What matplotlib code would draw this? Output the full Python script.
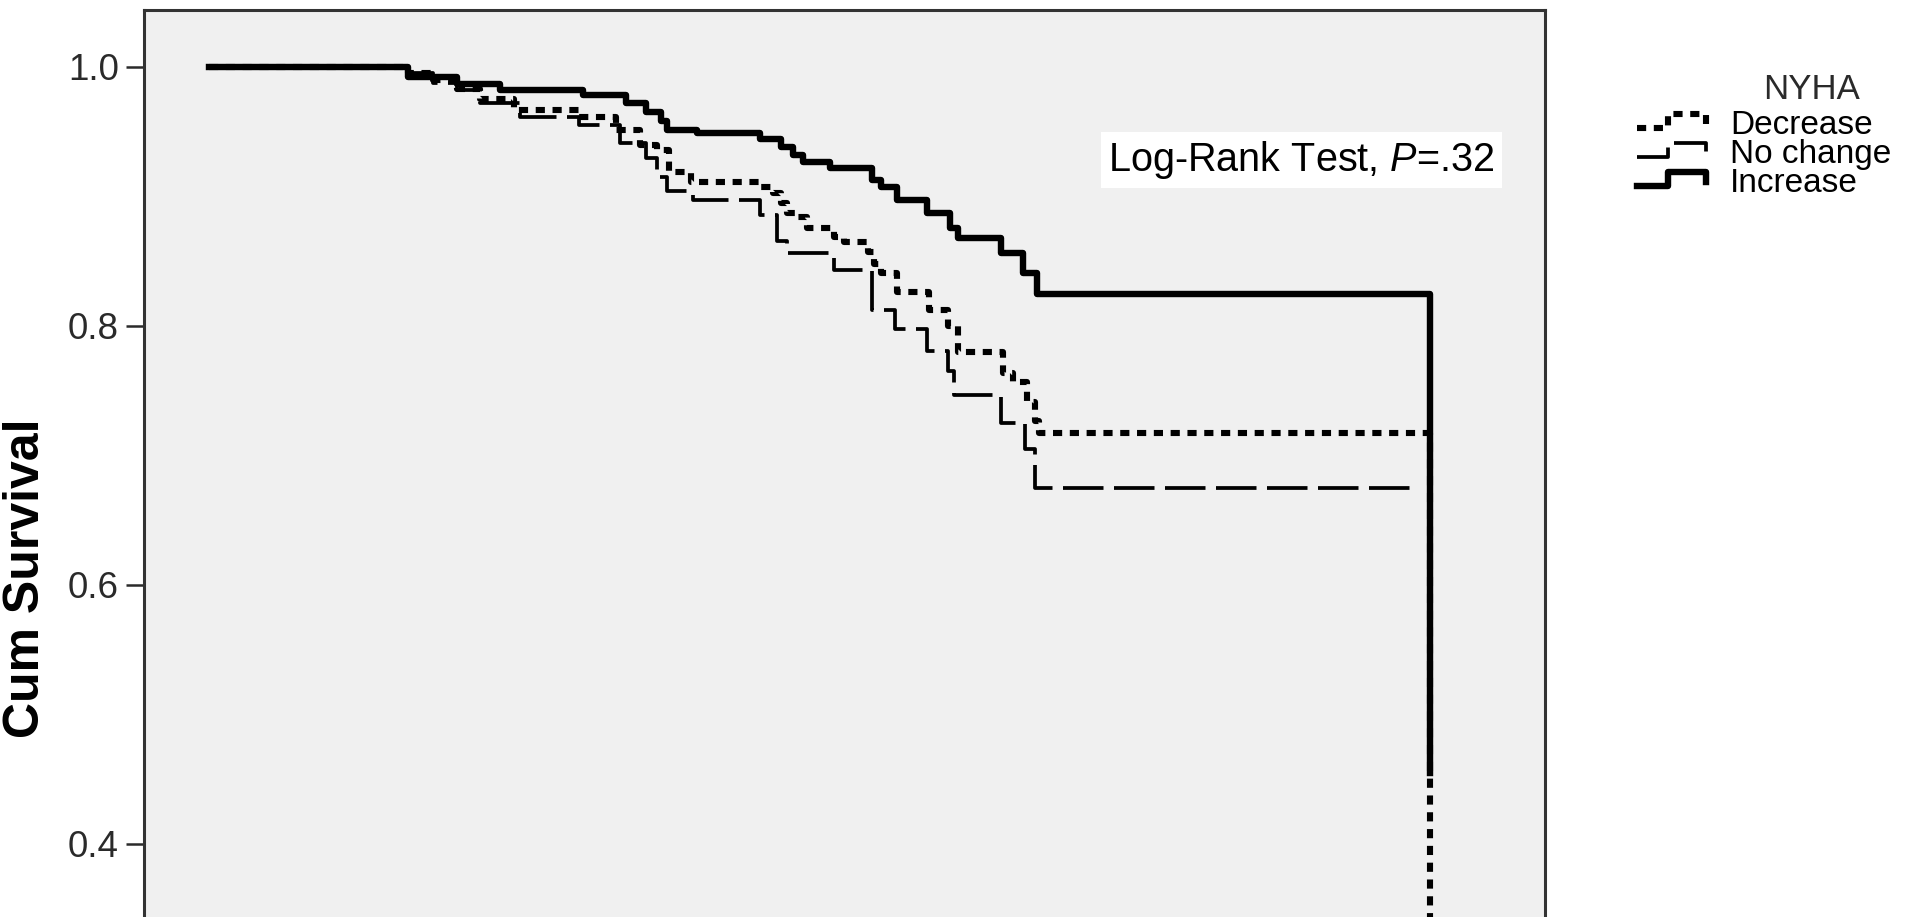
import matplotlib
matplotlib.use("Agg")
import matplotlib.pyplot as plt
from matplotlib.lines import Line2D

plt.rcParams['font.family'] = ['Liberation Sans', 'DejaVu Sans']
plt.rcParams['mathtext.fontset'] = 'custom'
plt.rcParams['mathtext.rm'] = 'Liberation Sans'
plt.rcParams['mathtext.it'] = 'Liberation Sans:italic'

# Kaplan-Meier estimates (months, cumulative survival after each event)
dec_t = [0, 9.8, 11.0, 12.2, 13.3, 15.0, 18.2, 20.0, 21.2, 22.0, 22.6, 23.7, 27.1, 27.7,
         28.1, 28.4, 28.9, 29.4, 30.7, 31.2, 32.4, 32.7, 33.0, 33.8, 35.4, 36.3, 36.8,
         39.0, 39.5, 40.2, 40.6, 40.8, 60.0]
dec_s = [1.0, 0.995, 0.990, 0.983, 0.975, 0.967, 0.961, 0.951, 0.940, 0.936, 0.919, 0.911,
         0.907, 0.903, 0.895, 0.887, 0.884, 0.876, 0.869, 0.865, 0.857, 0.848, 0.841, 0.826,
         0.812, 0.800, 0.780, 0.764, 0.757, 0.741, 0.727, 0.717, 0.0]

nc_t = [0, 9.8, 11.0, 12.2, 13.3, 15.3, 18.2, 20.2, 21.5, 22.0, 22.5, 23.8, 27.1, 27.9,
        28.4, 30.7, 32.6, 33.7, 35.3, 36.3, 36.6, 38.9, 40.1, 40.6, 59.5]
nc_s = [1.0, 0.995, 0.988, 0.982, 0.972, 0.961, 0.955, 0.941, 0.930, 0.915, 0.904, 0.897,
        0.886, 0.866, 0.856, 0.843, 0.812, 0.798, 0.781, 0.765, 0.747, 0.725, 0.705, 0.675,
        0.675]

inc_t = [0, 9.8, 12.2, 14.3, 18.4, 20.5, 21.5, 22.2, 22.5, 24.0, 27.1, 28.1, 28.7, 29.2,
         30.5, 32.6, 33.0, 33.8, 35.3, 36.4, 36.8, 38.9, 40.0, 40.7, 60.0]
inc_s = [1.0, 0.992, 0.987, 0.982, 0.978, 0.972, 0.965, 0.958, 0.951, 0.949, 0.944, 0.938,
         0.932, 0.927, 0.922, 0.913, 0.907, 0.897, 0.887, 0.876, 0.868, 0.856, 0.841, 0.825,
         0.455]

group_names = ["Decrease", "No change", "Increase"]
y_ticks = [0.4, 0.6, 0.8, 1.0]
p_text = "Log-Rank Test, $P$=.32"

W, H = 1920, 917
fig = plt.figure(figsize=(W / 100, H / 100), dpi=100)
ax = fig.add_axes([144 / W, 0, (1545 - 144) / W, (H - 10) / H])
ax.set_facecolor('#f0f0f0')

styles = [
    dict(color='black', lw=4.4, linestyle=(0, (1.5, 1.25))),
    dict(color='black', lw=2.7, linestyle=(0, (10.8, 2.8))),
    dict(color='black', lw=4.6, linestyle='-'),
]

ax.step(nc_t, nc_s, where='post', **styles[1])
ax.step(dec_t, dec_s, where='post', **styles[0])
ax.step(inc_t, inc_s, where='post', **styles[2])

ax.set_xlim(-3.19, 65.65)
ax.set_ylim(0.3436, 1.044)
ax.set_yticks(y_ticks)
ax.set_yticklabels([f"{v:.1f}" for v in y_ticks])
ax.set_xticks([])
ax.tick_params(axis='y', labelsize=26.5, length=13, width=1.8, pad=5,
               colors='#2a2a2a', direction='out')
for side in ['left', 'right', 'top']:
    ax.spines[side].set_color('#333333')
    ax.spines[side].set_linewidth(2.2)
ax.spines['bottom'].set_visible(False)

fig.text(26 / W, 1 - 578 / H, "Cum Survival", rotation=90, ha='center', va='center',
         fontsize=36, fontweight='bold')

fig.text(1108 / W, 1 - 160 / H, p_text, ha='left', va='center', fontsize=28.5,
         bbox=dict(facecolor='white', edgecolor='none', pad=5))

# legend block: title, then one step glyph + label per group
fig.text(1812 / W, 1 - 99 / H, "NYHA", ha='center', va='baseline', fontsize=25,
         color='#2a2a2a')
centers = [122, 151, 180]
for name, c, st in zip(group_names, centers, styles):
    xs = [1637, 1668, 1668, 1706, 1706]
    ys = [c + 6, c + 6, c - 8, c - 8, c + 2]
    fig.add_artist(Line2D([x / W for x in xs], [1 - y / H for y in ys],
                          transform=fig.transFigure, **st))
    fig.text(1730 / W, 1 - (c + 12) / H, name, ha='left', va='baseline', fontsize=24)

fig.savefig('out.png', dpi=100, facecolor='white')
